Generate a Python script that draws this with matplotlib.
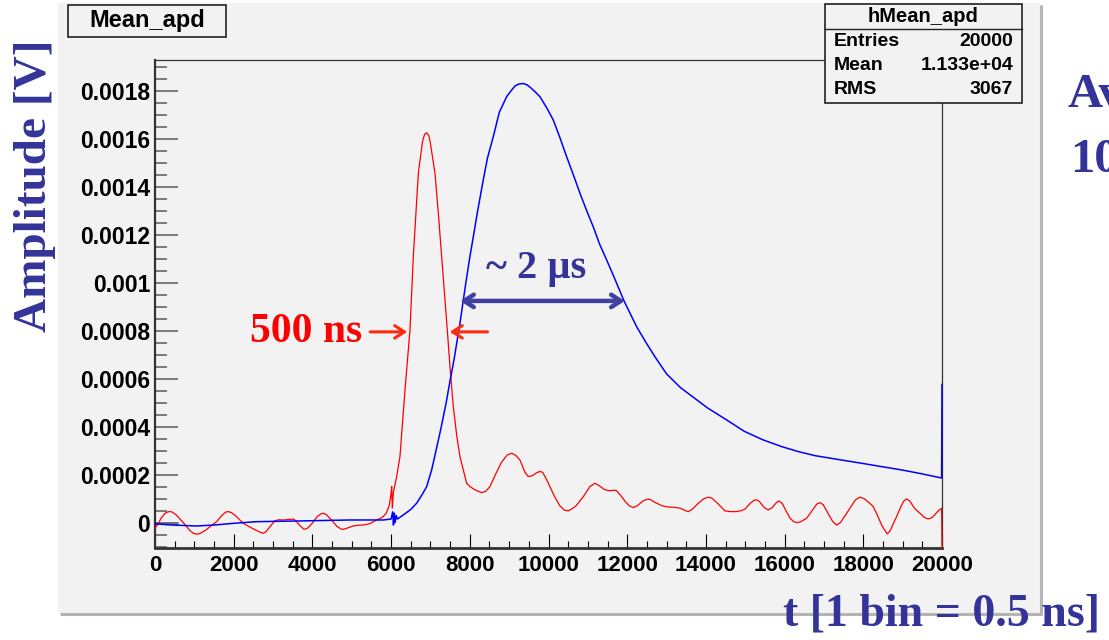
import numpy as np
import matplotlib
matplotlib.use('Agg')
import matplotlib.pyplot as plt
from matplotlib.patches import Rectangle
from matplotlib.ticker import MultipleLocator, FixedLocator

# средний сигнал с APD (красный) и после усилителя (синий), 1 бин = 0.5 нс
red_t = [0, 80, 160, 250, 330, 381, 440, 540, 720, 880, 980, 1059, 1150, 1300,
         1450, 1567, 1700, 1800, 1863, 1940, 2050, 2245, 2450, 2600, 2700, 2753,
         2820, 2930, 3049, 3150, 3261, 3400, 3515, 3580, 3680, 3787, 3870, 3990,
         4120, 4220, 4278, 4350, 4480, 4620, 4720, 4786, 4900, 5040, 5160, 5294,
         5450, 5633, 5780, 5880, 5950, 5990, 6015, 6030, 6060, 6140, 6225, 6353,
         6480, 6565, 6692, 6800, 6850, 6904, 6960, 7000, 7115, 7200, 7285, 7428,
         7500, 7581, 7670, 7750, 7835, 7920, 8004, 8150, 8301, 8400, 8512, 8650,
         8800, 8950, 9064, 9170, 9275, 9400, 9487, 9580, 9700, 9780, 9850, 9950,
         10037, 10150, 10280, 10400, 10502, 10600, 10700, 10884, 11050, 11181,
         11280, 11400, 11480, 11562, 11650, 11731, 11850, 11950, 12050, 12155,
         12250, 12400, 12500, 12578, 12700, 12875, 13000, 13171, 13350, 13480,
         13552, 13650, 13800, 13950, 14060, 14150, 14300, 14484, 14620, 14781,
         14900, 14992, 15120, 15220, 15289, 15360, 15480, 15584, 15680, 15800,
         15864, 15940, 16050, 16142, 16230, 16306, 16400, 16560, 16700, 16820,
         16898, 16980, 17100, 17220, 17322, 17420, 17540, 17660, 17800, 17914,
         18020, 18150, 18252, 18360, 18480, 18608, 18680, 18760, 18846, 18950,
         19030, 19100, 19180, 19300, 19438, 19550, 19650, 19760, 19880, 19990,
         20000]
red_amp = [-0.000023, -0.000005, 0.000020, 0.000038, 0.000045, 0.000046, 0.000044,
           0.000032, 0.000000, -0.000032, -0.000045, -0.000048, -0.000045,
           -0.000030, -0.000010, 0.000004, 0.000030, 0.000044, 0.000046, 0.000042,
           0.000028, -0.000003, -0.000022, -0.000034, -0.000042, -0.000044,
           -0.000038, -0.000015, 0.000008, 0.000012, 0.000011, 0.000013, 0.000015,
           0.000008, -0.000012, -0.000028, -0.000024, -0.000004, 0.000025, 0.000037,
           0.000039, 0.000034, 0.000012, -0.000015, -0.000026, -0.000028,
           -0.000022, -0.000014, -0.000011, -0.000010, -0.000005, 0.000011,
           0.000022, 0.000040, 0.000070, 0.000110, 0.000150, 0.000060, 0.000130,
           0.000190, 0.000275, 0.000553, 0.000803, 0.001110, 0.001456, 0.001590,
           0.001618, 0.001625, 0.001612, 0.001580, 0.001456, 0.001290, 0.001110,
           0.000803, 0.000640, 0.000483, 0.000360, 0.000275, 0.000220, 0.000164,
           0.000150, 0.000135, 0.000125, 0.000130, 0.000150, 0.000200, 0.000250,
           0.000282, 0.000289, 0.000280, 0.000261, 0.000210, 0.000192, 0.000195,
           0.000208, 0.000213, 0.000210, 0.000180, 0.000150, 0.000110, 0.000072,
           0.000052, 0.000049, 0.000058, 0.000070, 0.000108, 0.000150, 0.000164,
           0.000155, 0.000140, 0.000135, 0.000133, 0.000135, 0.000133, 0.000110,
           0.000088, 0.000070, 0.000063, 0.000070, 0.000090, 0.000097, 0.000097,
           0.000085, 0.000071, 0.000066, 0.000064, 0.000060, 0.000050, 0.000046,
           0.000055, 0.000080, 0.000100, 0.000106, 0.000102, 0.000080, 0.000049,
           0.000046, 0.000046, 0.000050, 0.000056, 0.000080, 0.000093, 0.000095,
           0.000088, 0.000063, 0.000053, 0.000062, 0.000085, 0.000090, 0.000080,
           0.000045, 0.000018, 0.000004, 0.000000, 0.000003, 0.000018, 0.000050,
           0.000078, 0.000083, 0.000075, 0.000040, 0.000005, -0.000010, 0.000000,
           0.000030, 0.000060, 0.000095, 0.000106, 0.000100, 0.000083, 0.000067,
           0.000030, -0.000015, -0.000047, -0.000035, -0.000005, 0.000025,
           0.000065, 0.000090, 0.000099, 0.000090, 0.000060, 0.000039, 0.000022,
           0.000015, 0.000022, 0.000045, 0.000060, -0.000105]

blue_t = [0, 423, 1059, 1500, 1990, 2584, 3684, 4955, 5802, 6000, 6040, 6060,
          6080, 6100, 6130, 6160, 6310, 6500, 6650, 6800, 6904, 7031, 7100, 7250,
          7400, 7496, 7600, 7750, 7900, 8004, 8088, 8200, 8342, 8450, 8596, 8750,
          8936, 9050, 9150, 9250, 9359, 9450, 9550, 9650, 9783, 9950, 10121,
          10300, 10461, 10630, 10799, 10970, 11137, 11300, 11477, 11700, 11922,
          12080, 12248, 12480, 12718, 13000, 13358, 13700, 14042, 14527, 14982,
          15450, 15922, 16350, 16776, 17370, 17973, 18480, 18996, 19500, 19990,
          20000]
blue_amp = [-0.000005, -0.000010, -0.000014, -0.000010, -0.000003, 0.000004,
            0.000007, 0.000011, 0.000011, 0.000015, 0.000045, -0.000010, 0.000040,
            0.000000, 0.000030, 0.000015, 0.000032, 0.000055, 0.000081, 0.000120,
            0.000150, 0.000220, 0.000270, 0.000380, 0.000500, 0.000590, 0.000680,
            0.000831, 0.001000, 0.001110, 0.001190, 0.001300, 0.001428, 0.001520,
            0.001608, 0.001710, 0.001775, 0.001800, 0.001820, 0.001828, 0.001830,
            0.001825, 0.001812, 0.001797, 0.001775, 0.001730, 0.001678, 0.001600,
            0.001525, 0.001450, 0.001373, 0.001300, 0.001233, 0.001160, 0.001095,
            0.001010, 0.000923, 0.000870, 0.000814, 0.000750, 0.000688, 0.000620,
            0.000562, 0.000520, 0.000478, 0.000428, 0.000380, 0.000345, 0.000317,
            0.000296, 0.000279, 0.000263, 0.000247, 0.000233, 0.000219, 0.000203,
            0.000186, 0.000576]

y_ticks = [0, 0.0002, 0.0004, 0.0006, 0.0008, 0.001, 0.0012, 0.0014, 0.0016, 0.0018]
x_ticks = [0, 2000, 4000, 6000, 8000, 10000, 12000, 14000, 16000, 18000, 20000]

stat_names = ['Entries', 'Mean', 'RMS']
stat_values = ['20000', '1.133e+04', '3067']

W, H = 1109, 640
sans = 'Liberation Sans'
serif = 'Liberation Serif'
violet = '#333399'
pad_gray = '#f2f2f2'

fig = plt.figure(figsize=(W / 100, H / 100), dpi=100)

# подложка (pad) с тенью, в пиксельных координатах
bg = fig.add_axes([0, 0, 1, 1], zorder=0)
bg.set_xlim(0, W)
bg.set_ylim(H, 0)
bg.axis('off')
bg.add_patch(Rectangle((58, 3), 982, 610, facecolor=pad_gray, edgecolor='none'))
bg.plot([1041, 1041], [5, 614], color='#b4b4b4', lw=2.2, solid_capstyle='butt')
bg.plot([60, 1042], [614, 614], color='#b4b4b4', lw=2.2, solid_capstyle='butt')

ax = fig.add_axes([155 / W, 1 - 548.3 / H, 787 / W, 488.3 / H], zorder=1)
ax.set_facecolor(pad_gray)

# clip_on=False, чтобы последний бин у правой границы не прятался под рамкой
ax.plot(red_t, red_amp, color='#ff0000', lw=0.9, zorder=3, clip_on=False)
ax.plot(blue_t, blue_amp, color='#0000ff', lw=1.1, zorder=3, clip_on=False)

ax.set_xlim(0, 20000)
ax.set_ylim(-0.000107, 0.001928)

ax.xaxis.set_major_locator(FixedLocator(x_ticks))
ax.xaxis.set_minor_locator(MultipleLocator(500))
ax.set_xticklabels([str(v) for v in x_ticks])
ax.yaxis.set_major_locator(FixedLocator(y_ticks))
ax.yaxis.set_minor_locator(MultipleLocator(0.00005))
ax.set_yticklabels(['%g' % v for v in y_ticks])

ax.tick_params(axis='x', which='major', direction='in', length=10, width=0.8,
               color='black', pad=5, labelsize=16)
ax.tick_params(axis='x', which='minor', direction='in', length=5, width=0.8,
               color='black')
ax.tick_params(axis='y', which='major', direction='in', length=16.5, width=1.2,
               color='#666666', pad=3.5, labelsize=16.5)
ax.tick_params(axis='y', which='minor', direction='in', length=8.5, width=1.2,
               color='#666666')
ax.yaxis.get_major_ticks()[0].tick1line.set_color('black')
ax.yaxis.get_major_ticks()[0].tick1line.set_markeredgewidth(2)
for lab in ax.get_xticklabels() + ax.get_yticklabels():
    lab.set_fontfamily(sans)
    lab.set_fontweight('bold')

ax.spines['left'].set_linewidth(1.6)
ax.spines['bottom'].set_linewidth(2.0)
ax.spines['top'].set_linewidth(0.9)
ax.spines['right'].set_linewidth(0.9)
for s in ax.spines.values():
    s.set_color('#333333')

# подписи ширины импульсов
ax.annotate('', xy=(6480, 0.000795), xytext=(5400, 0.000795),
            arrowprops=dict(arrowstyle='->, head_length=0.7, head_width=0.45',
                            color='#ff2a10', lw=2.2))
ax.annotate('', xy=(7420, 0.000795), xytext=(8520, 0.000795),
            arrowprops=dict(arrowstyle='->, head_length=0.7, head_width=0.45',
                            color='#ff2a10', lw=2.2))
ax.text(3830, 0.000795, '500 ns', color='#ff0000', fontsize=30,
        fontfamily=serif, fontweight='bold', ha='center', va='center')

ax.annotate('', xy=(7750, 0.000924), xytext=(11943, 0.000924),
            arrowprops=dict(arrowstyle='<->, head_length=0.7, head_width=0.45',
                            color='#4040a0', lw=3.2, shrinkA=0, shrinkB=0))
ax.text(9680, 0.00106, '~ 2 µs', color=violet, fontsize=29,
        fontfamily=serif, fontweight='bold', ha='center', va='center')

# рамки заголовка и статистики поверх графика
fg = fig.add_axes([0, 0, 1, 1], zorder=2)
fg.set_xlim(0, W)
fg.set_ylim(H, 0)
fg.axis('off')
fg.patch.set_alpha(0)

fg.add_patch(Rectangle((68, 5), 158, 32, facecolor=pad_gray, edgecolor='#222222', lw=1.2))
fg.text(147, 21, 'Mean_apd', fontsize=17, fontfamily=sans, fontweight='bold',
        ha='center', va='center')

fg.add_patch(Rectangle((825, 4), 197, 99, facecolor=pad_gray, edgecolor='#222222', lw=1.2))
fg.plot([825, 1022], [29, 29], color='#222222', lw=1.0)
fg.text(923.5, 17, 'hMean_apd', fontsize=14.5, fontfamily=sans, fontweight='bold',
        ha='center', va='center')
for i, (name, val) in enumerate(zip(stat_names, stat_values)):
    yy = 42 + 24 * i
    fg.text(834, yy, name, fontsize=14, fontfamily=sans, fontweight='bold',
            ha='left', va='center')
    fg.text(1013, yy, val, fontsize=14, fontfamily=sans, fontweight='bold',
            ha='right', va='center')

fg.text(35, 186, 'Amplitude [V]', rotation=90, color=violet, fontsize=34,
        fontfamily=serif, fontweight='bold', ha='center', va='center')
fg.text(783, 614, 't [1 bin = 0.5 ns]', color=violet, fontsize=33,
        fontfamily=serif, fontweight='bold', ha='left', va='center')
# текст справа уходит за край слайда
fg.text(1068, 95, 'Av', color=violet, fontsize=35,
        fontfamily=serif, fontweight='bold', ha='left', va='center')
fg.text(1070, 160, '10', color=violet, fontsize=35,
        fontfamily=serif, fontweight='bold', ha='left', va='center')

fig.savefig('out.png', dpi=100)
